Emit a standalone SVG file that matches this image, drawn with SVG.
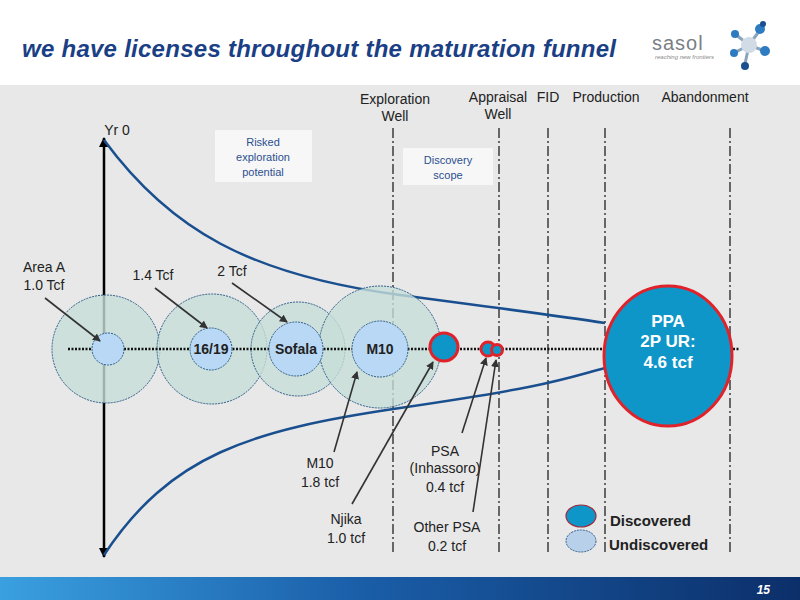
<svg xmlns="http://www.w3.org/2000/svg" width="800" height="600" viewBox="0 0 800 600">
<defs>
<style>
text{font-family:"Liberation Sans",Arial,sans-serif;fill:#222}
.lbl{font-size:14px;text-anchor:middle}
.big{fill:#c5ddd8;fill-opacity:.8;stroke:#2e5d8a;stroke-width:1;stroke-dasharray:2 1}
.sm{fill:#b9d8f5;stroke:#2e5d8a;stroke-width:1;stroke-dasharray:2 1}
.disc{fill:#0f96c8;stroke:#e0232a;stroke-width:3}
.vl{stroke:#111;stroke-width:1.2;stroke-dasharray:10 3 2 3;fill:none}
.ar{stroke:#333;stroke-width:1.6;fill:none;marker-end:url(#ah)}
.cur{stroke:#1a4f8f;stroke-width:2.5;fill:none}
.bold{font-weight:bold}
</style>
<marker id="ah" markerWidth="8" markerHeight="8" refX="7" refY="4" orient="auto" markerUnits="userSpaceOnUse"><path d="M0,0 L8,4 L0,8 z" fill="#333"/></marker>
<marker id="ax" markerWidth="10" markerHeight="10" refX="9" refY="5" orient="auto" markerUnits="userSpaceOnUse"><path d="M0,0 L10,5 L0,10 z" fill="#000"/></marker>
<linearGradient id="ft" x1="0" x2="1"><stop offset="0" stop-color="#3aa0e0"/><stop offset="0.45" stop-color="#1a5ea8"/><stop offset="1" stop-color="#0c2f6a"/></linearGradient>
</defs>
<rect width="800" height="600" fill="#fff"/>
<rect x="0" y="85" width="800" height="492" fill="#e8e8e8"/>
<rect x="0" y="577" width="800" height="23" fill="url(#ft)"/>
<text x="770" y="594" style="font-size:12px;font-weight:bold;font-style:italic;fill:#fff" text-anchor="end">15</text>
<text x="22" y="57" textLength="594" style="font-size:24px;font-weight:bold;font-style:italic;fill:#1a3f85">we have licenses throughout the maturation funnel</text>
<g id="logo">
<text x="652" y="50" style="font-size:20px;fill:#7a7f85;letter-spacing:1px">sasol</text>
<text x="655" y="59" style="font-size:6px;font-style:italic;fill:#888">reaching new frontiers</text>
<g stroke="#8aa4bc" stroke-width="3"><line x1="749" y1="45" x2="735" y2="34"/><line x1="749" y1="45" x2="760" y2="30"/><line x1="749" y1="45" x2="762" y2="50"/><line x1="749" y1="45" x2="745" y2="64"/><line x1="749" y1="45" x2="736" y2="52"/></g>
<circle cx="749" cy="45" r="8" fill="#d0dbe6"/><circle cx="735" cy="34" r="4" fill="#2d7cc1"/><circle cx="760" cy="29" r="5" fill="#2d7cc1"/><circle cx="765" cy="51" r="5" fill="#2d7cc1"/><circle cx="745" cy="66" r="4" fill="#1a4f8f"/><circle cx="734" cy="53" r="4" fill="#2d7cc1"/><circle cx="763" cy="24" r="3" fill="#1a4f8f"/>
</g>
<g id="stages">
<text class="lbl" x="395" y="104">Exploration</text><text class="lbl" x="395" y="121">Well</text>
<text class="lbl" x="498" y="102">Appraisal</text><text class="lbl" x="498" y="119">Well</text>
<text class="lbl" x="548" y="102">FID</text>
<text class="lbl" x="606" y="102">Production</text>
<text class="lbl" x="705" y="102">Abandonment</text>
<text class="lbl" x="117" y="135">Yr 0</text>
</g>
<g id="boxes">
<rect x="215" y="130" width="97" height="52" fill="#f7f7f7"/>
<text x="263" y="146" style="font-size:11px;fill:#2a4f8f" text-anchor="middle">Risked</text>
<text x="263" y="161" style="font-size:11px;fill:#2a4f8f" text-anchor="middle">exploration</text>
<text x="263" y="176" style="font-size:11px;fill:#2a4f8f" text-anchor="middle">potential</text>
<rect x="403" y="148" width="90" height="37" fill="#f7f7f7"/>
<text x="448" y="164" style="font-size:11px;fill:#2a4f8f" text-anchor="middle">Discovery</text>
<text x="448" y="179" style="font-size:11px;fill:#2a4f8f" text-anchor="middle">scope</text>
</g>
<g id="connectors">
<line class="vl" x1="393" y1="128" x2="393" y2="555"/>
<line class="vl" x1="499" y1="128" x2="499" y2="555"/>
<line class="vl" x1="548" y1="128" x2="548" y2="555"/>
<line class="vl" x1="605" y1="128" x2="605" y2="555"/>
<line class="vl" x1="730" y1="128" x2="730" y2="555"/>
<line x1="104" y1="150" x2="104" y2="545" stroke="#000" stroke-width="2.5"/>
<path d="M104,150 L104,138" stroke="#000" stroke-width="2.5" marker-end="url(#ax)"/>
<path d="M104,545 L104,557" stroke="#000" stroke-width="2.5" marker-end="url(#ax)"/>
<path class="cur" d="M104,140 C170,230 250,275 400,295 S560,316 605,323"/>
<path class="cur" d="M104,555 C170,455 250,430 400,408 S560,380 605,368"/>
</g>
<g id="bigcircles">
<circle class="big" cx="106" cy="349" r="54"/>
<circle class="big" cx="212" cy="349" r="55"/>
<circle class="big" cx="298" cy="349" r="47"/>
<circle class="big" cx="380" cy="347" r="61"/>
</g>
<line x1="68" y1="349" x2="740" y2="349" stroke="#111" stroke-width="2.5" stroke-dasharray="2 1.5"/>
<g id="areaA"><circle class="sm" cx="108" cy="349" r="16"/></g>
<g id="n1619"><circle class="sm" cx="211" cy="349" r="21"/><text class="lbl bold" x="211" y="354">16/19</text></g>
<g id="sofala"><circle class="sm" cx="296" cy="349" r="27"/><text class="lbl bold" x="296" y="354">Sofala</text></g>
<g id="m10"><circle class="sm" cx="380" cy="349" r="28"/><text class="lbl bold" x="380" y="354">M10</text></g>
<g id="njika"><circle class="disc" cx="444" cy="347" r="14"/></g>
<g id="psa"><circle class="disc" cx="488" cy="349" r="7" stroke-width="2.5"/><circle class="disc" cx="497" cy="350" r="5.5" stroke-width="2.5"/></g>
<g id="ppa"><ellipse class="disc" cx="668" cy="356" rx="64" ry="70"/>
<text class="lbl bold" x="668" y="327" style="font-size:17px;fill:#fff">PPA</text>
<text class="lbl bold" x="668" y="347" style="font-size:17px;fill:#fff">2P UR:</text>
<text class="lbl bold" x="668" y="368" style="font-size:17px;fill:#fff">4.6 tcf</text></g>
<g id="labels">
<text class="lbl" x="44" y="272">Area A</text><text class="lbl" x="44" y="290">1.0 Tcf</text>
<path class="ar" d="M45,298 L100,341"/>
<text class="lbl" x="153" y="280">1.4 Tcf</text>
<path class="ar" d="M155,288 L207,328"/>
<text class="lbl" x="232" y="276">2 Tcf</text>
<path class="ar" d="M232,283 L287,322"/>
<text class="lbl" x="320" y="468">M10</text><text class="lbl" x="320" y="487">1.8 tcf</text>
<path class="ar" d="M334,452 L357,372"/>
<text class="lbl" x="346" y="524">Njika</text><text class="lbl" x="346" y="543">1.0 tcf</text>
<path class="ar" d="M352,504 L433,362"/>
<text class="lbl" x="445" y="456">PSA</text><text class="lbl" x="445" y="473">(Inhassoro)</text><text class="lbl" x="445" y="492">0.4 tcf</text>
<path class="ar" d="M462,433 L486,358"/>
<text class="lbl" x="447" y="532">Other PSA</text><text class="lbl" x="447" y="551">0.2 tcf</text>
<path class="ar" d="M473,512 L496,360"/>
</g>
<g id="legend">
<ellipse cx="581" cy="516" rx="15" ry="11" fill="#0f96c8" stroke="#a0283a" stroke-width="1.2"/>
<ellipse cx="581" cy="541" rx="15" ry="11" fill="#b9d0ea" stroke="#2e5d8a" stroke-dasharray="2 1"/>
<text x="610" y="526" class="bold" style="font-size:15px">Discovered</text>
<text x="609" y="550" class="bold" style="font-size:15px">Undiscovered</text>
</g>
</svg>
